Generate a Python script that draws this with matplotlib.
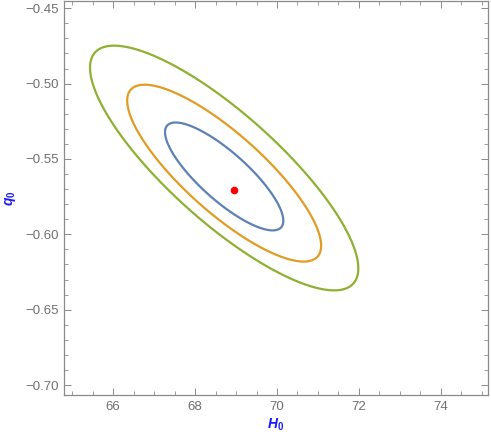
import numpy as np
import matplotlib
matplotlib.use('Agg')
import matplotlib.pyplot as plt
from matplotlib.ticker import MultipleLocator

plt.rcParams['mathtext.fontset'] = 'custom'
plt.rcParams['mathtext.it'] = 'Liberation Sans:italic:bold'
plt.rcParams['mathtext.rm'] = 'Liberation Sans:bold'
plt.rcParams['mathtext.bf'] = 'Liberation Sans:bold'

# best fit point
best_h0 = 68.95
best_q0 = -0.5705

# confidence contours (2D gaussian approximation)
center_h0 = 68.71
center_q0 = [-0.5616, -0.5594, -0.5560]   # 1, 2, 3 sigma
sigma_h0 = 0.952
sigma_q0 = 0.0236
rho = -0.82
dchi2_levels = [2.30, 6.18, 11.83]
level_colors = ['#5E81B5', '#E19C24', '#8FB032']

xlim = (64.8, 75.15)
ylim = (-0.7066, -0.4452)

fig = plt.figure(figsize=(4.91, 4.36), dpi=100)
ax = fig.add_axes([0.1303, 0.094, 0.8636, 0.9037])

h = np.linspace(xlim[0], xlim[1], 600)
q = np.linspace(ylim[0], ylim[1], 600)
H, Q = np.meshgrid(h, q)
for cq, lev, col in zip(center_q0, dchi2_levels, level_colors):
    dx = (H - center_h0) / sigma_h0
    dy = (Q - cq) / sigma_q0
    chi2 = (dx**2 - 2 * rho * dx * dy + dy**2) / (1 - rho**2)
    ax.contour(H, Q, chi2, levels=[lev], colors=[col], linewidths=1.6)

ax.plot([best_h0], [best_q0], 'o', color='red', markersize=5.5, markeredgewidth=0)

ax.set_xlim(*xlim)
ax.set_ylim(*ylim)
ax.xaxis.set_major_locator(MultipleLocator(2))
ax.xaxis.set_minor_locator(MultipleLocator(0.5))
ax.yaxis.set_major_locator(MultipleLocator(0.05))
ax.yaxis.set_minor_locator(MultipleLocator(0.01))
ax.yaxis.set_major_formatter(plt.FuncFormatter(lambda v, p: ('%.2f' % v).replace('-', '\u2212')))

frame_col = '#8a8a8a'
for s in ax.spines.values():
    s.set_color(frame_col)
    s.set_linewidth(0.9)
ax.tick_params(which='both', direction='in', top=True, right=True, color=frame_col,
               labelcolor='#707070', labelsize=9.5, pad=4)
ax.tick_params(which='major', length=5, width=0.7)
ax.tick_params(which='minor', length=3, width=0.6)
for lab in ax.get_xticklabels() + ax.get_yticklabels():
    lab.set_family('Liberation Sans')

ax.set_xlabel(r'$H_0$', color='#1a1aff', fontsize=10, labelpad=3)
ax.set_ylabel(r'$q_0$', color='#1a1aff', fontsize=10, labelpad=5)

fig.savefig('out.png', dpi=100)
